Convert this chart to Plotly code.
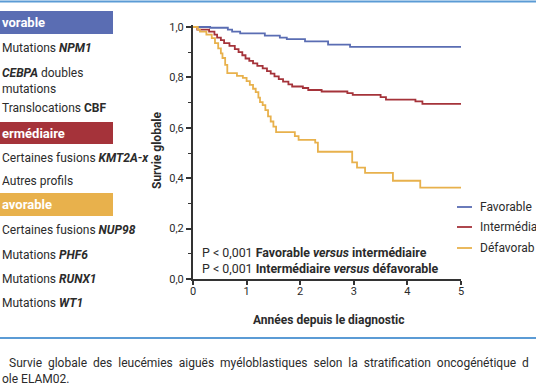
import plotly.graph_objects as go

# ---- data (Kaplan-Meier steps) ----
fav_t = [0, 0.32, 0.65, 0.73, 0.88, 1.34, 1.62, 1.75, 2.09, 2.52, 2.93, 5.0]
fav_s = [1.0, 0.997, 0.99, 0.982, 0.975, 0.966, 0.958, 0.952, 0.943, 0.93, 0.921, 0.921]

int_t = [0, 0.08, 0.30, 0.40, 0.45, 0.52, 0.58, 0.68, 0.78, 0.85, 0.92, 0.98, 1.05, 1.12,
         1.20, 1.30, 1.38, 1.45, 1.52, 1.60, 1.68, 1.78, 1.85, 2.05, 2.15, 2.40, 2.88,
         2.98, 3.50, 3.60, 4.15, 4.28, 5.0]
int_s = [1.0, 0.990, 0.982, 0.970, 0.958, 0.948, 0.936, 0.925, 0.912, 0.900, 0.888, 0.875,
         0.866, 0.856, 0.846, 0.836, 0.825, 0.815, 0.804, 0.793, 0.783, 0.772, 0.764, 0.758,
         0.750, 0.744, 0.738, 0.731, 0.722, 0.712, 0.705, 0.695, 0.695]

def_t = [0, 0.09, 0.13, 0.25, 0.35, 0.41, 0.47, 0.52, 0.55, 0.60, 0.64, 0.82, 0.93, 1.0,
         1.06, 1.12, 1.17, 1.22, 1.25, 1.30, 1.35, 1.40, 1.45, 1.50, 1.55, 1.90, 1.97,
         2.28, 2.33, 2.97, 3.06, 3.21, 3.73, 4.24, 5.0]
def_s = [1.0, 0.99, 0.982, 0.97, 0.956, 0.936, 0.915, 0.895, 0.877, 0.85, 0.817, 0.806,
         0.798, 0.785, 0.77, 0.755, 0.742, 0.72, 0.702, 0.69, 0.67, 0.645, 0.625, 0.605,
         0.583, 0.567, 0.552, 0.541, 0.505, 0.463, 0.442, 0.421, 0.39, 0.363, 0.363]

series_names = ["Favorable", "Intermédia", "Défavorab"]
series_colors = ["#5a6db3", "#a5333a", "#e8b14c"]

x_ticks = [0, 1, 2, 3, 4, 5]
y_ticks = [0, 0.2, 0.4, 0.6, 0.8, 1.0]

# ---- geometry ----
W_FIG, H_FIG = 536, 386
L, R, T, B = 193, 461, 25, 279
PW, PH = R - L, B - T

def px(x):
    return (x - L) / PW

def py(y):
    return (B - y) / PH

FONT = "Roboto"
TXT = "#2b2b2b"

fig = go.Figure()
for t, s, name, col in zip([fav_t, int_t, def_t], [fav_s, int_s, def_s], series_names, series_colors):
    fig.add_trace(go.Scatter(x=t, y=s, mode="lines", name=name, line=dict(color=col, width=1.8, shape="hv"),
                             showlegend=False, hoverinfo="skip"))

shapes = []
annotations = []

# horizontal rules (top and bottom)
for yy in [1.5, 338]:
    shapes.append(dict(type="line", xref="paper", yref="paper", x0=px(0), x1=px(W_FIG), y0=py(yy), y1=py(yy),
                       line=dict(color="#5b9bd5", width=2)))

# left panel: headers + items
headers = [("vorable", 11, 34, "#5a6db3"), ("ermédiaire", 122, 144, "#a5333a"),
           ("avorable", 193, 216, "#e8b14c")]
for text, y0, y1, col in headers:
    shapes.append(dict(type="rect", xref="paper", yref="paper", x0=px(-5), x1=px(113), y0=py(y1), y1=py(y0),
                       fillcolor=col, line=dict(width=0), layer="below"))
    annotations.append(dict(text="<b>%s</b>" % text, x=px(0), y=py((y0 + y1) / 2), xref="paper", yref="paper",
                            xanchor="left", yanchor="middle", showarrow=False,
                            font=dict(family=FONT, size=13, color="white")))

items = [
    ("Mutations <b><i>NPM1</i></b>", 48),
    ("<b><i>CEBPA</i></b> doubles", 73),
    ("mutations", 89),
    ("Translocations <b>CBF</b>", 108),
    ("Certaines fusions <b><i>KMT2A-x</i></b>", 158),
    ("Autres profils", 181),
    ("Certaines fusions <b><i>NUP98</i></b>", 230),
    ("Mutations <b><i>PHF6</i></b>", 255),
    ("Mutations <b><i>RUNX1</i></b>", 279),
    ("Mutations <b><i>WT1</i></b>", 303),
]
for text, yy in items:
    annotations.append(dict(text=text, x=px(0), y=py(yy), xref="paper", yref="paper", xanchor="left",
                            yanchor="middle", showarrow=False, font=dict(family=FONT, size=12, color=TXT)))

# axis titles
annotations.append(dict(text="<b>Survie globale</b>", x=px(157), y=py(151), xref="paper", yref="paper",
                        textangle=-90, xanchor="center", yanchor="middle", showarrow=False,
                        font=dict(family=FONT, size=12, color=TXT)))
annotations.append(dict(text="<b>Années depuis le diagnostic</b>", x=px(328), y=py(320), xref="paper",
                        yref="paper", xanchor="center", yanchor="middle", showarrow=False,
                        font=dict(family=FONT, size=12, color=TXT)))

# p-values
annotations.append(dict(text="P < 0,001 <b>Favorable <i>versus</i> intermédiaire</b>", x=px(200), y=py(252),
                        xref="paper", yref="paper", xanchor="left", yanchor="middle", showarrow=False,
                        font=dict(family=FONT, size=12.4, color=TXT)))
annotations.append(dict(text="P < 0,001 <b>Intermédiaire <i>versus</i> défavorable</b>", x=px(200), y=py(268),
                        xref="paper", yref="paper", xanchor="left", yanchor="middle", showarrow=False,
                        font=dict(family=FONT, size=12.4, color=TXT)))

# manual legend
for name, col, yy in zip(series_names, series_colors, [207, 227, 248]):
    shapes.append(dict(type="line", xref="paper", yref="paper", x0=px(457), x1=px(472), y0=py(yy), y1=py(yy),
                       line=dict(color=col, width=1.8)))
    annotations.append(dict(text=name, x=px(478), y=py(yy), xref="paper", yref="paper", xanchor="left",
                            yanchor="middle", showarrow=False, font=dict(family=FONT, size=12, color=TXT)))

# caption (justified look via doubled spaces)
caption1 = "Survie globale des leucémies aiguës myéloblastiques selon la stratification oncogénétique d"
annotations.append(dict(text=caption1.replace(" ", "&nbsp;&nbsp;"),
                        x=px(7), y=py(363), xref="paper", yref="paper", xanchor="left", yanchor="middle",
                        showarrow=False, font=dict(family=FONT, size=12, color=TXT)))
annotations.append(dict(text="ole ELAM02.", x=px(0), y=py(379), xref="paper", yref="paper",
                        xanchor="left", yanchor="middle", showarrow=False,
                        font=dict(family=FONT, size=12, color=TXT)))

fig.update_layout(
    width=W_FIG, height=H_FIG,
    margin=dict(l=L, r=W_FIG - R, t=T, b=H_FIG - B, autoexpand=False),
    paper_bgcolor="white", plot_bgcolor="white",
    separators=", ",
    shapes=shapes, annotations=annotations,
    showlegend=False,
    font=dict(family=FONT, size=11, color=TXT),
)
fig.update_xaxes(range=[0, 5], tickvals=x_ticks, ticktext=[str(v) for v in x_ticks],
                 showgrid=False, zeroline=False, showline=True, linecolor="#333", linewidth=2,
                 ticks="outside", ticklen=4, tickwidth=1.5, tickcolor="#333", ticklabelstandoff=-3,
                 tickfont=dict(family=FONT, size=11, color=TXT))
fig.update_yaxes(range=[0, 1.008], tickvals=y_ticks, ticktext=[("%.1f" % v).replace(".", ",") for v in y_ticks],
                 showgrid=False, zeroline=False, showline=True, linecolor="#333", linewidth=2,
                 ticks="outside", ticklen=5, tickwidth=1.5, tickcolor="#333",
                 minor=dict(dtick=0.1, ticks="outside", ticklen=3, tickwidth=1.2, tickcolor="#333", showgrid=False),
                 tickfont=dict(family=FONT, size=11, color=TXT))

fig.write_html("out.html", config={"displayModeBar": False},
               post_script="document.body.style.margin='0px';")
